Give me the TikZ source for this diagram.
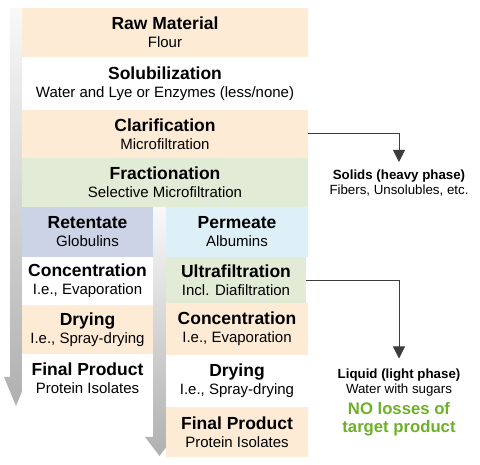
\documentclass[tikz,border=0pt]{standalone}
\usepackage{fontspec}
\setmainfont{Liberation Sans}
\usetikzlibrary{arrows.meta}
\definecolor{peach}{RGB}{253,235,214}
\definecolor{sage}{RGB}{226,235,214}
\definecolor{lav}{RGB}{205,211,230}
\definecolor{sky}{RGB}{221,239,247}
\definecolor{darkline}{RGB}{60,60,60}
\definecolor{okgreen}{RGB}{110,176,40}
\newcommand{\bxt}[2]{{\fontsize{17.5}{18}\selectfont\bfseries #1}\\{\fontsize{15}{18}\selectfont #2}}
\begin{document}
\begin{tikzpicture}[x=1pt,y=-1pt,
  box/.style={draw=none, inner sep=0pt, align=center, font=\fontsize{15}{18}\selectfont},
  side/.style={inner sep=0pt, align=center, font=\fontsize{13.3}{15}\selectfont},
  conn/.style={draw=darkline, line width=0.8pt, -{Triangle[length=12pt,width=12pt]}},
  bigarrow/.style={top color=gray!5, bottom color=gray!62, draw=none}
]
\useasboundingbox (0,0) rectangle (480,465);
% big gray arrows
\path[bigarrow] (10,8) -- (22,8) -- (22,377) -- (28,377) -- (16,406) -- (4,377) -- (10,377) -- cycle;
\path[bigarrow] (153,207) -- (166,207) -- (166,437) -- (174,437) -- (159.5,456) -- (145,437) -- (153,437) -- cycle;
% main column
\node[box, fill=peach, minimum width=286, minimum height=49] (raw) at (165,32.5) {\bxt{Raw Material}{Flour}};
\node[box, fill=white, minimum width=286, minimum height=53] (sol) at (165,83.5) {\bxt{Solubilization}{Water and Lye or Enzymes (less/none)}};
\node[box, fill=peach, minimum width=286, minimum height=48] (cla) at (165,134) {\bxt{Clarification}{Microfiltration}};
\node[box, fill=sage, minimum width=286, minimum height=49] (fra) at (165,182.5) {\bxt{Fractionation}{Selective Microfiltration}};
% left column
\node[box, fill=lav, minimum width=131, minimum height=50] (ret) at (87.5,232) {\bxt{Retentate}{Globulins}};
\node[box, fill=white, minimum width=131, minimum height=48] (con1) at (87.5,281) {\bxt{Concentration}{I.e., Evaporation}};
\node[box, fill=peach, minimum width=131, minimum height=49] (dry1) at (87.5,329.5) {\bxt{Drying}{I.e., Spray-drying}};
\node[box, fill=white, minimum width=131, minimum height=48] (fin1) at (87.5,378) {\bxt{Final Product}{Protein Isolates}};
% right column
\node[box, fill=sky, minimum width=142, minimum height=50] (per) at (237,232) {\bxt{Permeate}{Albumins}};
\node[box, fill=sage, minimum width=140, minimum height=46] (ult) at (236,280) {\bxt{Ultrafiltration}{Incl. Diafiltration}};
\node[box, fill=peach, minimum width=142, minimum height=52] (con2) at (237,329) {\bxt{Concentration}{I.e., Evaporation}};
\node[box, fill=white, minimum width=142, minimum height=52] (dry2) at (237,381) {\bxt{Drying}{I.e., Spray-drying}};
\node[box, fill=peach, minimum width=142, minimum height=50] (fin2) at (237,432) {\bxt{Final Product}{Protein Isolates}};
% side outputs
\node[side, anchor=north] (solids) at (399,169.5) {\textbf{Solids (heavy phase)}\\Fibers, Unsolubles, etc.};
\node[side, anchor=north] (liquid) at (399,368.5) {\textbf{Liquid (light phase)}\\Water with sugars\\[6pt]
  {\fontsize{16.7}{18}\selectfont\bfseries\color{okgreen}NO losses of}\\[3pt]
  {\fontsize{16.7}{18}\selectfont\bfseries\color{okgreen}target product}};
\coordinate (c1) at (399,133);
\coordinate (c2) at (399,280);
\draw[conn] (cla.east |- c1) -- (c1) -- ([yshift=7.5pt]solids.north);
\draw[conn] (ult.east |- c2) -- (c2) -- ([yshift=10pt]liquid.north);
\end{tikzpicture}
\end{document}
